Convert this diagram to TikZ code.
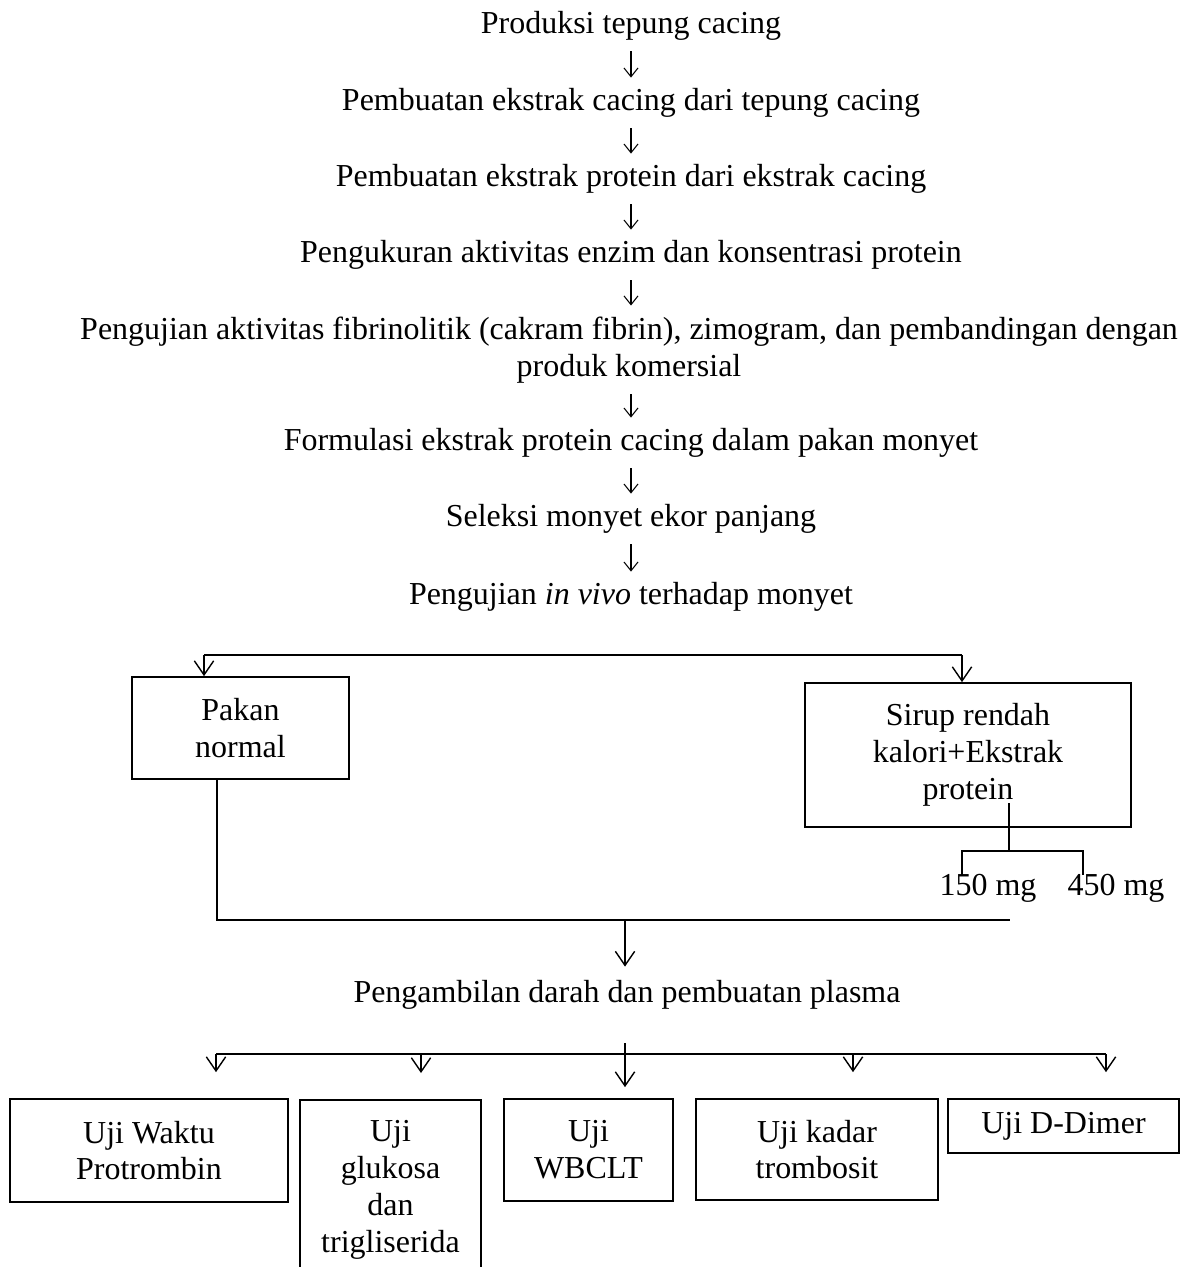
\documentclass[tikz,border=0pt]{standalone}
\usepackage{fontspec}
\setmainfont{Liberation Serif}
\usetikzlibrary{arrows.meta}

\tikzset{
    flow/.style={inner sep=0pt, text height=12pt, text depth=4pt},
    flowtwo/.style={inner sep=0pt, align=center},
    box/.style={draw, line width=1pt, inner sep=0pt, align=center},
    down/.style={-{Straight Barb[length=5pt,width=8pt]}, line width=0.6pt,
        shorten <=0.22cm, shorten >=0.22cm},
    branch/.style={line width=0.8pt},
    fork/.style={-{Straight Barb[length=8pt,width=11pt]}, line width=0.8pt}
}

\begin{document}
\begin{tikzpicture}[x=0.02cm, y=-0.02cm, font=\fontsize{18.2}{21}\selectfont]
        \clip
            (0,0) rectangle (1186,1267);
        \node[flow] (tepung) at (631,26) {Produksi tepung cacing};
        \node[flow] (ekstrak) at (631,103) {Pembuatan ekstrak cacing dari tepung cacing};
        \node[flow] (protein) at (631,179) {Pembuatan ekstrak protein dari ekstrak cacing};
        \node[flow] (ukur) at (631,255) {Pengukuran aktivitas enzim dan konsentrasi protein};
        \node[flowtwo] (fibrin) at (629,350)
            {Pengujian aktivitas fibrinolitik (cakram fibrin), zimogram, dan pembandingan dengan\\produk komersial};
        \node[flow] (formula) at (631,443) {Formulasi ekstrak protein cacing dalam pakan monyet};
        \node[flow] (seleksi) at (631,519) {Seleksi monyet ekor panjang};
        \node[flow] (invivo) at (631,597) {Pengujian \textit{in vivo} terhadap monyet};
        \foreach \a/\b in {tepung/ekstrak, ekstrak/protein, protein/ukur, ukur/fibrin,
                fibrin/formula, formula/seleksi, seleksi/invivo}
            \draw[down] (\a.south -| tepung.south) -- (\b.north -| tepung.south);

        \node[box, minimum width=4.34cm, minimum height=2.04cm] (pakan) at (240.5,728) {Pakan\\normal};
        \node[box, minimum width=6.52cm, minimum height=2.88cm] (sirup) at (968,755)
            {Sirup rendah\\kalori+Ekstrak\\protein};
        \coordinate (forkL) at (204,655);
        \coordinate (forkR) at (962,655);
        \draw[branch]
            (forkL) -- (forkR);
        \draw[fork] (forkL) -- (forkL |- pakan.north);
        \draw[fork] (forkR) -- (forkR |- sirup.north);

        \node (dosis150) at (988,888) {150 mg};
        \node (dosis450) at (1116,888) {450 mg};
        \coordinate (doseTop) at (1009,803);
        \coordinate (doseMid) at (1009,851);
        \coordinate (tick150) at (962,875);
        \coordinate (tick450) at (1083,875);
        \draw[branch]
            (doseTop) -- (doseMid);
        \draw[branch]
            (tick150) |- (doseMid) -| (tick450);

        \coordinate (joinL) at (217,920);
        \coordinate (joinR) at (1010,920);
        \coordinate (joinC) at (625,920);
        \draw[branch]
            (joinL |- pakan.south) -- (joinL) -- (joinR);
        \node[flow] (ambil) at (627,995) {Pengambilan darah dan pembuatan plasma};
        \draw[fork, shorten >=0.28cm] (joinC) -- (joinC |- ambil.north);

        \node[box, minimum width=5.56cm, minimum height=2.06cm] (uji1) at (149,1150.5) {Uji Waktu\\Protrombin};
        \node[box, minimum width=3.62cm, minimum height=3.6cm, anchor=north] (uji2) at (390.5,1099)
            {Uji\\glukosa\\dan\\trigliserida};
        \node[box, minimum width=3.38cm, minimum height=2.04cm] (uji3) at (588.5,1150) {Uji\\WBCLT};
        \node[box, minimum width=4.84cm, minimum height=2.02cm] (uji4) at (817,1149.5) {Uji kadar\\trombosit};
        \node[box, minimum width=4.62cm, minimum height=1.08cm] (uji5) at (1063.5,1126) {Uji D-Dimer};

        \coordinate (splitL) at (216,1054);
        \coordinate (splitR) at (1106,1054);
        \coordinate (stem) at (625,1043);
        \draw[branch]
            (splitL) -- (splitR);
        \foreach \x/\n in {216/uji1, 421/uji2, 853/uji4, 1106/uji5}
            \draw[fork, shorten >=0.52cm] (\x,1054) -- (\n.north -| \x,0);
        \draw[fork, shorten >=0.22cm] (stem) -- (stem |- uji3.north);
    \end{tikzpicture}
\end{document}
